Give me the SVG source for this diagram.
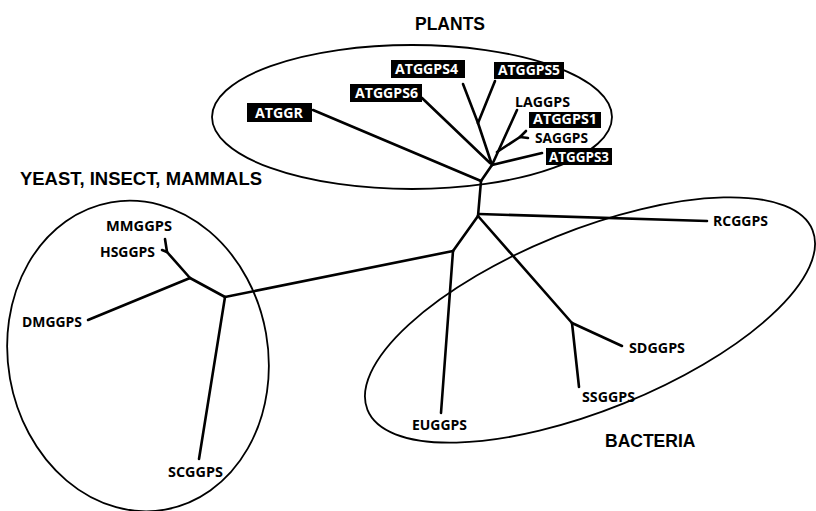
<svg xmlns="http://www.w3.org/2000/svg" width="816" height="511" viewBox="0 0 816 511">
<style>
.bg{fill:#fff}
.grp{fill:none;stroke:#000;stroke-width:1.8}
.br{fill:none;stroke:#000;stroke-width:2.6;stroke-linecap:round;stroke-linejoin:round}
.title{font-family:"Liberation Sans",Arial,sans-serif;font-weight:bold;font-size:17.5px;fill:#000}
.lbl{font-family:"Open Sans","Noto Sans",sans-serif;font-weight:bold;font-size:15px;fill:#000}
.box{fill:#000}
.blbl{font-family:"Open Sans","Noto Sans",sans-serif;font-weight:bold;font-size:14.5px;fill:#fff}
</style>
<rect class="bg" x="0" y="0" width="816" height="511"/>
<g id="groups">
<ellipse class="grp" cx="138" cy="356" rx="130" ry="156" transform="rotate(-10 138 356)"/>
<ellipse class="grp" cx="412" cy="117" rx="200" ry="72"/>
<ellipse class="grp" cx="590" cy="320" rx="240" ry="90" transform="rotate(-22 590 320)"/>
<text class="title" x="415" y="30">PLANTS</text>
<text class="title" x="20" y="185" textLength="242" lengthAdjust="spacingAndGlyphs">YEAST, INSECT, MAMMALS</text>
<text class="title" x="605" y="447">BACTERIA</text>
</g>
<g id="connectors">
<polyline class="br" points="478,216 481,181"/>
<polyline class="br" points="481,181 313,110"/>
<polyline class="br" points="481,181 492,165"/>
<polyline class="br" points="492,165 542,153"/>
<polyline class="br" points="492,165 478,123"/>
<polyline class="br" points="478,123 463,84"/>
<polyline class="br" points="478,123 495,81"/>
<polyline class="br" points="422,98 490,163"/>
<polyline class="br" points="492,165 517,110"/>
<polyline class="br" points="497,152 520,137"/>
<polyline class="br" points="520,137 526,131"/>
<polyline class="br" points="520,137 528,138"/>
<polyline class="br" points="479,214 707,221"/>
<polyline class="br" points="478,216 453,251"/>
<polyline class="br" points="478,216 572,323"/>
<polyline class="br" points="453,251 225,297"/>
<polyline class="br" points="453,251 441,413"/>
<polyline class="br" points="572,323 622,346"/>
<polyline class="br" points="572,323 579,387"/>
<polyline class="br" points="225,297 190,278"/>
<polyline class="br" points="225,297 199,459"/>
<polyline class="br" points="190,278 88,320"/>
<polyline class="br" points="190,278 167,252"/>
<polyline class="br" points="167,252 165,239"/>
<polyline class="br" points="167,252 162,250"/>
</g>
<g id="node-ATGGR"><rect class="box" x="247" y="103" width="65" height="19"/><text class="blbl" x="255" y="118" textLength="48" lengthAdjust="spacingAndGlyphs">ATGGR</text></g>
<g id="node-ATGGPS6"><rect class="box" x="350" y="84" width="72" height="18"/><text class="blbl" x="355" y="98" textLength="63" lengthAdjust="spacingAndGlyphs">ATGGPS6</text></g>
<g id="node-ATGGPS4"><rect class="box" x="391" y="60" width="74" height="18"/><text class="blbl" x="395" y="74" textLength="63" lengthAdjust="spacingAndGlyphs">ATGGPS4</text></g>
<g id="node-ATGGPS5"><rect class="box" x="494" y="62" width="70" height="17"/><text class="blbl" x="498" y="75" textLength="62" lengthAdjust="spacingAndGlyphs">ATGGPS5</text></g>
<g id="node-ATGGPS1"><rect class="box" x="529" y="112" width="72" height="16"/><text class="blbl" x="533" y="124" textLength="64" lengthAdjust="spacingAndGlyphs">ATGGPS1</text></g>
<g id="node-ATGGPS3"><rect class="box" x="546" y="148" width="66" height="17"/><text class="blbl" x="549" y="162" textLength="60" lengthAdjust="spacingAndGlyphs">ATGGPS3</text></g>
<g id="node-LAGGPS"><text class="lbl" x="515" y="107" textLength="55" lengthAdjust="spacingAndGlyphs">LAGGPS</text></g>
<g id="node-SAGGPS"><text class="lbl" x="535" y="143" textLength="53" lengthAdjust="spacingAndGlyphs">SAGGPS</text></g>
<g id="node-RCGGPS"><text class="lbl" x="713" y="226" textLength="55" lengthAdjust="spacingAndGlyphs">RCGGPS</text></g>
<g id="node-SDGGPS"><text class="lbl" x="629" y="353" textLength="56" lengthAdjust="spacingAndGlyphs">SDGGPS</text></g>
<g id="node-SSGGPS"><text class="lbl" x="582" y="402" textLength="53" lengthAdjust="spacingAndGlyphs">SSGGPS</text></g>
<g id="node-EUGGPS"><text class="lbl" x="412" y="430" textLength="55" lengthAdjust="spacingAndGlyphs">EUGGPS</text></g>
<g id="node-MMGGPS"><text class="lbl" x="106" y="231" textLength="66" lengthAdjust="spacingAndGlyphs">MMGGPS</text></g>
<g id="node-HSGGPS"><text class="lbl" x="100" y="257" textLength="55" lengthAdjust="spacingAndGlyphs">HSGGPS</text></g>
<g id="node-DMGGPS"><text class="lbl" x="22" y="327" textLength="60" lengthAdjust="spacingAndGlyphs">DMGGPS</text></g>
<g id="node-SCGGPS"><text class="lbl" x="168" y="477" textLength="55" lengthAdjust="spacingAndGlyphs">SCGGPS</text></g>
</svg>
